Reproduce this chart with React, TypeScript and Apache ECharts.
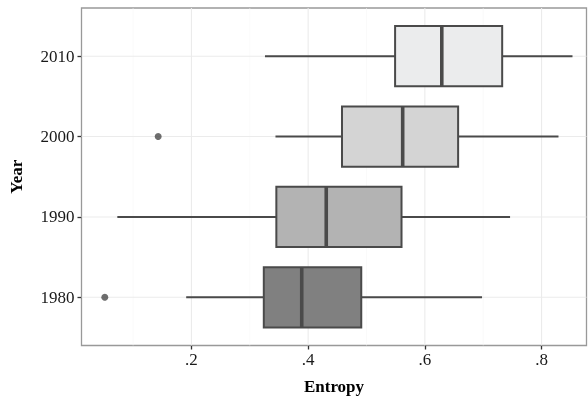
import React, { useEffect, useRef } from "react";
import * as echarts from "echarts";

const years = ["1980", "1990", "2000", "2010"];
const yPositions = [1, 2, 3, 4];
const whiskerLow = [0.191, 0.073, 0.344, 0.326];
const q1 = [0.324, 0.3455, 0.458, 0.549];
const medians = [0.389, 0.431, 0.562, 0.629];
const q3 = [0.491, 0.56, 0.657, 0.7325];
const whiskerHigh = [0.698, 0.746, 0.829, 0.853];
const fills = ["#808080", "#b3b3b3", "#d4d4d4", "#ebeced"];
const outliers: [number, number][] = [
  [0.0515, 1],
  [0.143, 3],
];
const xTicks = [0.2, 0.4, 0.6, 0.8];
const xMinorGrid = [0.1, 0.3, 0.5, 0.7];
const X_MIN = 0.0116;
const X_MAX = 0.877;
const Y_MIN = 0.4;
const Y_MAX = 4.6;
const BOX_WIDTH = 0.75;

export default function App() {
  const ref = useRef<HTMLDivElement>(null);
  useEffect(() => {
    if (!ref.current) return;
    const chart = echarts.init(ref.current, undefined, { renderer: "svg" });
    const boxData = yPositions.map((y, i) => [
      y,
      whiskerLow[i],
      q1[i],
      medians[i],
      q3[i],
      whiskerHigh[i],
      i,
    ]);
    const lineColor = "#4a4a4a";
    const gridData = [
      ...xTicks.map((v) => [0, v, 1.1]),
      ...xMinorGrid.map((v) => [0, v, 0.55]),
      ...yPositions.map((v) => [1, v, 1.1]),
    ];
    const labelFont = {
      fontFamily: "Liberation Serif",
      fontSize: 17,
      color: "#1a1a1a",
    };
    const titleFont = {
      fontFamily: "Liberation Serif",
      fontWeight: "bold",
      fontSize: 17,
      color: "#000",
    };
    chart.setOption({
      animation: false,
      grid: {
        left: 81.5,
        top: 8,
        right: 1.5,
        bottom: 51.5,
        containLabel: false,
        outerBoundsMode: "none",
        show: true,
        borderColor: "#999999",
        borderWidth: 1.3,
        backgroundColor: "transparent",
      },
      xAxis: {
        type: "value",
        min: X_MIN,
        max: X_MAX,
        name: "Entropy",
        nameLocation: "middle",
        nameGap: 32,
        nameTextStyle: titleFont,
        axisLine: { show: false },
        axisTick: {
          show: true,
          customValues: xTicks,
          length: 4,
          lineStyle: { color: "#333", width: 1.3 },
        },
        axisLabel: {
          ...labelFont,
          customValues: xTicks,
          formatter: (v: number) => String(Math.round(v * 10) / 10).replace(/^0/, ""),
          margin: 5,
        },
        splitLine: { show: false },
      },
      yAxis: {
        type: "value",
        min: Y_MIN,
        max: Y_MAX,
        name: "Year",
        nameLocation: "middle",
        nameGap: 57,
        nameRotate: 90,
        nameTextStyle: titleFont,
        axisLine: { show: false },
        axisTick: {
          show: true,
          customValues: yPositions,
          length: 4,
          lineStyle: { color: "#333", width: 1.3 },
        },
        axisLabel: {
          ...labelFont,
          customValues: yPositions,
          formatter: (v: number) => years[Math.round(v) - 1] ?? "",
          margin: 7,
        },
        splitLine: { show: false },
      },
      series: [
        {
          type: "custom",
          z: 1,
          silent: true,
          data: gridData,
          renderItem: (params: any, api: any) => {
            const dir = api.value(0);
            const v = api.value(1);
            const w = api.value(2);
            let p1, p2;
            if (dir === 0) {
              p1 = api.coord([v, Y_MIN]);
              p2 = api.coord([v, Y_MAX]);
            } else {
              p1 = api.coord([X_MIN, v]);
              p2 = api.coord([X_MAX, v]);
            }
            return {
              type: "line",
              shape: { x1: p1[0], y1: p1[1], x2: p2[0], y2: p2[1] },
              style: { stroke: w > 1 ? "#ebebeb" : "#f5f5f5", lineWidth: w },
            };
          },
        },
        {
          type: "custom",
          z: 3,
          data: boxData,
          renderItem: (params: any, api: any) => {
            const y = api.value(0);
            const lo = api.value(1);
            const a = api.value(2);
            const m = api.value(3);
            const b = api.value(4);
            const hi = api.value(5);
            const idx = api.value(6);
            const half = BOX_WIDTH / 2;
            const pLo = api.coord([lo, y]);
            const pA = api.coord([a, y]);
            const pB = api.coord([b, y]);
            const pHi = api.coord([hi, y]);
            const pM = api.coord([m, y]);
            const top = api.coord([a, y + half])[1];
            const bot = api.coord([a, y - half])[1];
            return {
              type: "group",
              children: [
                {
                  type: "line",
                  shape: { x1: pLo[0], y1: pLo[1], x2: pA[0], y2: pA[1] },
                  style: { stroke: lineColor, lineWidth: 2 },
                },
                {
                  type: "line",
                  shape: { x1: pB[0], y1: pB[1], x2: pHi[0], y2: pHi[1] },
                  style: { stroke: lineColor, lineWidth: 2 },
                },
                {
                  type: "rect",
                  shape: { x: pA[0], y: top, width: pB[0] - pA[0], height: bot - top },
                  style: { fill: fills[idx], stroke: lineColor, lineWidth: 2 },
                },
                {
                  type: "line",
                  shape: { x1: pM[0], y1: top, x2: pM[0], y2: bot },
                  style: { stroke: lineColor, lineWidth: 3.6 },
                },
              ],
            };
          },
        },
        {
          type: "scatter",
          z: 4,
          data: outliers,
          symbol: "circle",
          symbolSize: 7,
          itemStyle: { color: lineColor },
        },
      ],
    });
    return () => chart.dispose();
  }, []);
  return (
    <div
      ref={ref}
      style={{ position: "fixed", left: 0, top: 0, width: 588, height: 397 }}
    />
  );
}
